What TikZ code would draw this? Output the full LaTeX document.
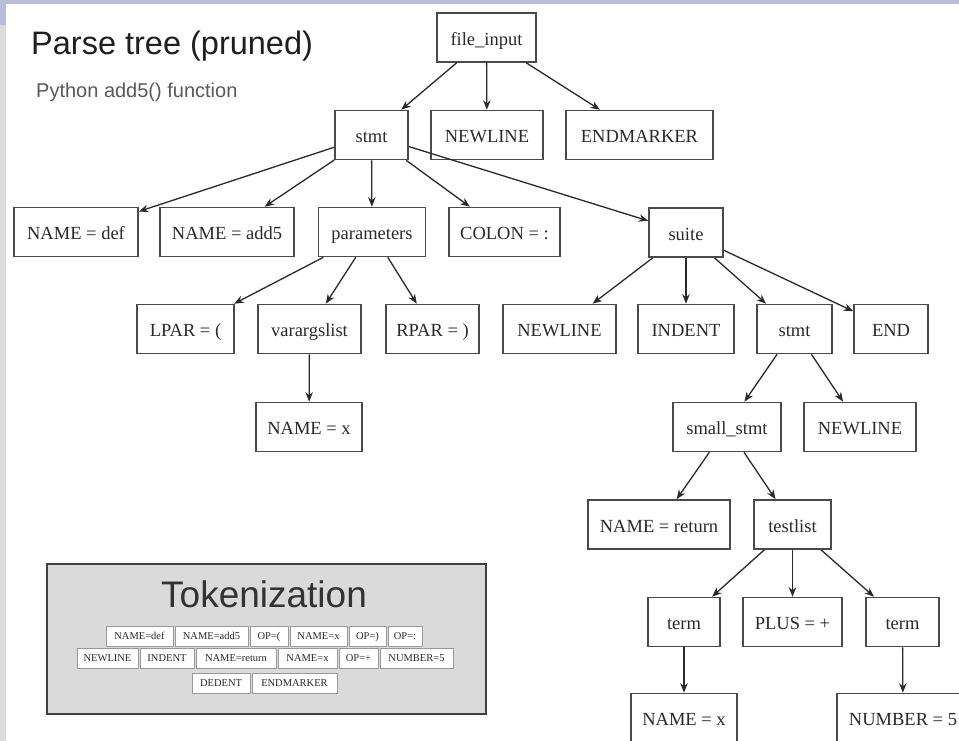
\documentclass[tikz,border=0pt]{standalone}
\usepackage{fontspec}
\setmainfont{Liberation Serif}
\newfontfamily\sansf{Liberation Sans}
\usetikzlibrary{arrows.meta}
\definecolor{lav}{HTML}{B9BDD9}
\definecolor{side}{HTML}{DCDCDC}
\definecolor{boxline}{HTML}{4A4A4A}
\definecolor{ink}{HTML}{2A2A2A}
\definecolor{tokgray}{HTML}{DADADA}
\tikzset{
  tn/.style={draw=boxline, line width=1.6bp, fill=white, rectangle,
    minimum height=49bp, inner xsep=2bp, inner ysep=2bp, text=ink,
    text height=15.5bp, text depth=0bp,
    font=\fontsize{18.5bp}{20bp}\selectfont},
  tok/.style={draw=gray!80, line width=0.9bp, fill=white, rectangle,
    minimum height=20bp, inner xsep=1bp, inner ysep=1bp, text=ink,
    text height=7.5bp, text depth=0bp,
    font=\fontsize{10.5bp}{11bp}\selectfont},
  edge/.style={draw=ink, line width=1.3bp, -{Stealth[length=9.5bp,width=7.5bp]}}
}
\begin{document}
\begin{tikzpicture}[x=1bp,y=-1bp]
\useasboundingbox (0,0) rectangle (959,741);
\clip (0,0) rectangle (959,741);
\fill[white] (0,0) rectangle (959,741);
\fill[lav] (0,0) rectangle (959,4.5);
\fill[lav] (0,0) rectangle (6,25);
\fill[side] (0,25) rectangle (6,741);

% titles
\node[anchor=base west, inner sep=0pt, text=black!88,
  font=\sansf\fontsize{32.5bp}{36bp}\selectfont] (title) at (31,55) {Parse tree (pruned)};
\node[anchor=base west, inner sep=0pt, text=black!65,
  font=\sansf\fontsize{20bp}{22bp}\selectfont] (sub) at (36,97) {Python add5() function};

% parse tree nodes
\node[tn, minimum width=99bp]  (fi)  at (486.5,37.5) {file\_input};
\node[tn, minimum width=73bp]  (st1) at (371.5,135)  {stmt};
\node[tn, minimum width=112bp] (nl1) at (487,135)    {NEWLINE};
\node[tn, minimum width=147bp] (em)  at (639.5,135)  {ENDMARKER};

\node[tn, minimum width=124bp] (nd)  at (76,232)     {NAME = def};
\node[tn, minimum width=134bp] (na)  at (227,232)    {NAME = add5};
\node[tn, minimum width=107bp] (pa)  at (372,232)    {parameters};
\node[tn, minimum width=111bp] (co)  at (504.5,232)  {COLON = :};
\node[tn, minimum width=74bp]  (su)  at (686,232.5)  {suite};

\node[tn, minimum width=97bp]  (lp)  at (185.5,329)  {LPAR = (};
\node[tn, minimum width=103bp] (va)  at (309.5,329)  {varargslist};
\node[tn, minimum width=93bp]  (rp)  at (432.5,329)  {RPAR = )};
\node[tn, minimum width=113bp] (nl2) at (559.5,329)  {NEWLINE};
\node[tn, minimum width=96bp]  (ind) at (686,329)    {INDENT};
\node[tn, minimum width=75bp]  (st2) at (794.5,329)  {stmt};
\node[tn, minimum width=74bp]  (en)  at (891,329)    {END};

\node[tn, minimum width=106bp] (nx1) at (309,427)    {NAME = x};
\node[tn, minimum width=108bp] (ss)  at (727,427)    {small\_stmt};
\node[tn, minimum width=112bp] (nl3) at (860,427)    {NEWLINE};

\node[tn, minimum width=142bp] (nr)  at (659,524.5)  {NAME = return};
\node[tn, minimum width=77bp]  (tl)  at (792.5,524.5) {testlist};

\node[tn, minimum width=72bp]  (t1)  at (684,622)    {term};
\node[tn, minimum width=99bp]  (pl)  at (792.5,622)  {PLUS = +};
\node[tn, minimum width=73bp]  (t2)  at (902.5,622)  {term};

\node[tn, minimum width=106bp] (nx2) at (684,718)    {NAME = x};
\node[tn, minimum width=132bp] (nu)  at (903,718)    {NUMBER = 5};

% edges
\foreach \a/\b in {fi/st1, fi/nl1, fi/em,
  st1/nd, st1/na, st1/pa, st1/co, st1/su,
  pa/lp, pa/va, pa/rp, va/nx1,
  su/nl2, su/ind, su/st2, su/en,
  st2/ss, st2/nl3, ss/nr, ss/tl,
  tl/t1, tl/pl, tl/t2, t1/nx2, t2/nu}
  \draw[edge] (\a) -- (\b);

% tokenization panel
\node[draw=black!75, line width=2.6bp, fill=tokgray, minimum width=439bp,
  minimum height=150bp, inner sep=0pt] (tkbox) at (266.5,639) {};
\node[anchor=base, inner sep=0pt, text=black!80,
  font=\sansf\fontsize{37bp}{40bp}\selectfont] (tktitle) at (264,607) {Tokenization};

\node[tok, minimum width=67bp] (k1) at (139.5,636) {NAME=def};
\node[tok, minimum width=73bp] (k2) at (211.5,636) {NAME=add5};
\node[tok, minimum width=38bp] (k3) at (269,636)   {OP=(};
\node[tok, minimum width=57bp] (k4) at (318.5,636) {NAME=x};
\node[tok, minimum width=37bp] (k5) at (367.5,636) {OP=)};
\node[tok, minimum width=34bp] (k6) at (405,636)   {OP=:};

\node[tok, minimum width=61bp] (m1) at (107.5,658) {NEWLINE};
\node[tok, minimum width=54bp] (m2) at (167,658)   {INDENT};
\node[tok, minimum width=80bp] (m3) at (236,658)   {NAME=return};
\node[tok, minimum width=59bp] (m4) at (307.5,658) {NAME=x};
\node[tok, minimum width=39bp] (m5) at (358.5,658) {OP=+};
\node[tok, minimum width=73bp] (m6) at (416.5,658) {NUMBER=5};

\node[tok, minimum width=58bp] (d1) at (221,683)   {DEDENT};
\node[tok, minimum width=85bp] (d2) at (294.5,683) {ENDMARKER};
\end{tikzpicture}
\end{document}
